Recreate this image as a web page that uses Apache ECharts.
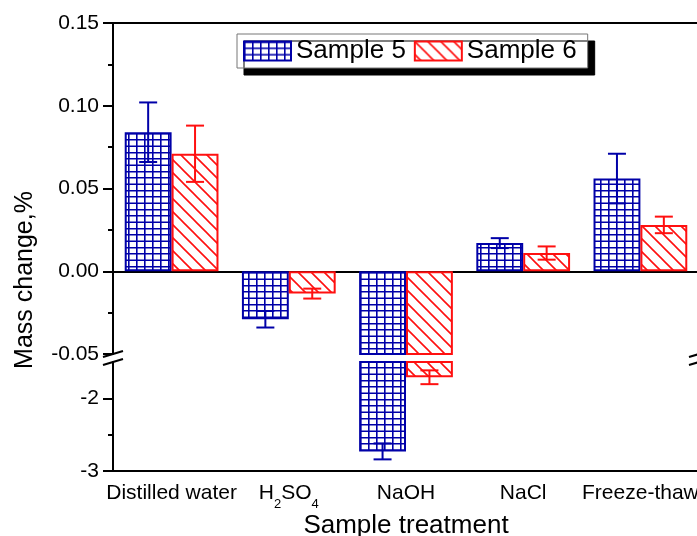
<!DOCTYPE html>
<html><head><meta charset="utf-8">
<script src="https://cdn.jsdelivr.net/npm/echarts@6/dist/echarts.min.js"></script>
<style>html,body{margin:0;padding:0;background:#fff}#c{width:697px;height:536px}</style>
</head><body><div id="c"></div>
<script>
// ---- data ----
const categories = ['Distilled water', 'H2SO4', 'NaOH', 'NaCl', 'Freeze-thaw'];
const sample5 = [0.084, -0.029, -2.73, 0.017, 0.056];
const sample5Err = [0.018, 0.005, 0.11, 0.003, 0.015];
const sample6 = [0.071, -0.0135, -1.71, 0.011, 0.028];
const sample6Err = [0.017, 0.003, 0.095, 0.004, 0.005];
const seriesNames = ['Sample 5', 'Sample 6'];
const upperRange = [-0.05, 0.15];
const lowerRange = [-3, -1.5];
const lowerTickLabels = [-3, -2];
const lowerMinorTicks = [-2.5];

// ---- layout ----
const FONT = 'Liberation Sans, Arial, sans-serif';
const GL = 113, GW = 586, UP_TOP = 23, UP_BOT = 354, LO_TOP = 362, LO_BOT = 471;
const BLUE = '#0000A8', RED = '#FF1010';

function gridPattern(color) {
  const c = document.createElement('canvas'); c.width = 8; c.height = 19;
  const g = c.getContext('2d'); g.fillStyle = '#fff'; g.fillRect(0, 0, 8, 19);
  g.strokeStyle = color; g.lineWidth = 1.6; g.beginPath();
  g.moveTo(0.8, 0); g.lineTo(0.8, 19);
  [0.8, 6.8, 13.2].forEach(y => { g.moveTo(0, y); g.lineTo(8, y); });
  g.stroke(); return c;
}
function hatchPattern(color) {
  const s = 13, c = document.createElement('canvas'); c.width = s; c.height = s;
  const g = c.getContext('2d'); g.fillStyle = '#fff'; g.fillRect(0, 0, s, s);
  g.strokeStyle = color; g.lineWidth = 1.6; g.beginPath();
  for (let k = -1; k <= 1; k++) { g.moveTo(k * s - 2, -2); g.lineTo(k * s + s + 2, s + 2); }
  g.stroke(); return c;
}
const fills = [{ image: gridPattern(BLUE), repeat: 'repeat' }, { image: hatchPattern(RED), repeat: 'repeat' }];
const colors = [BLUE, RED];
const values = [sample5, sample6];
const errs = [sample5Err, sample6Err];

function errSeries(k, xi, yi, range) {
  return {
    type: 'custom', name: seriesNames[k] + ' err', xAxisIndex: xi, yAxisIndex: yi, z: 10, silent: true,
    data: values[k].map((v, i) => [i, v, errs[k][i]]),
    encode: { x: 0, y: 1 },
    renderItem(params, api) {
      const i = api.value(0), v = api.value(1), e = api.value(2);
      if (v < range[0] || v > range[1]) return null;
      const band = api.size([1, 0])[0];
      const sign = k === 0 ? -1 : 1;
      const x = api.coord([i, v])[0] + sign * band * 0.2;
      const yt = api.coord([i, v + e])[1], yb = api.coord([i, v - e])[1];
      const hw = 9, st = { stroke: colors[k], lineWidth: 2 };
      return { type: 'group', children: [
        { type: 'line', shape: { x1: x, y1: yt, x2: x, y2: yb }, style: st },
        { type: 'line', shape: { x1: x - hw, y1: yt, x2: x + hw, y2: yt }, style: st },
        { type: 'line', shape: { x1: x - hw, y1: yb, x2: x + hw, y2: yb }, style: st }
      ] };
    }
  };
}

const series = [];
[0, 1].forEach(k => {
  series.push({
    type: 'bar', name: seriesNames[k], xAxisIndex: 0, yAxisIndex: 0, data: values[k],
    barGap: '0%', barCategoryGap: '20%', clip: true,
    itemStyle: { color: fills[k], borderColor: colors[k], borderWidth: 2 }
  });
});
[0, 1].forEach(k => {
  series.push({
    type: 'bar', name: seriesNames[k], xAxisIndex: 2, yAxisIndex: 1,
    data: values[k].map(v => (v < upperRange[0] ? v : '-')),
    barGap: '0%', barCategoryGap: '20%', clip: true,
    itemStyle: { color: fills[k], borderColor: colors[k], borderWidth: 2 }
  });
});
[0, 1].forEach(k => { series.push(errSeries(k, 0, 0, upperRange)); series.push(errSeries(k, 2, 1, lowerRange)); });

const axisLineStyle = { color: '#000', width: 2 };
const labelStyle = { color: '#000', fontSize: 21, fontFamily: FONT };

function breakMarks(x) {
  return [UP_BOT, LO_TOP].map(y => ({
    type: 'line', z: 100,
    shape: { x1: x - 10, y1: y + 3, x2: x + 10, y2: y - 3 },
    style: { stroke: '#000', lineWidth: 2 }
  }));
}

const option = {
  animation: false,
  backgroundColor: '#fff',
  grid: [
    { left: GL, top: UP_TOP, width: GW, height: UP_BOT - UP_TOP, containLabel: false, outerBoundsMode: 'none' },
    { left: GL, top: LO_TOP, width: GW, height: LO_BOT - LO_TOP, containLabel: false, outerBoundsMode: 'none' }
  ],
  legend: {
    data: seriesNames, left: 237, top: 34, icon: 'rect', itemWidth: 47, itemHeight: 19, itemGap: 8,
    padding: [4, 11, 4, 6], backgroundColor: '#fff', borderColor: '#777', borderWidth: 1,
    shadowColor: '#000', shadowBlur: 0, shadowOffsetX: 7, shadowOffsetY: 7,
    textStyle: { fontSize: 26, color: '#000', fontFamily: FONT }
  },
  xAxis: [
    { type: 'category', gridIndex: 0, data: categories, axisLine: { onZero: true, lineStyle: axisLineStyle },
      axisTick: { show: false }, axisLabel: { show: false } },
    { type: 'category', gridIndex: 0, data: categories, position: 'top', axisLine: { onZero: false, lineStyle: axisLineStyle },
      axisTick: { show: false }, axisLabel: { show: false } },
    { type: 'category', gridIndex: 1, data: categories, position: 'bottom', axisLine: { onZero: false, lineStyle: axisLineStyle },
      axisTick: { show: false },
      axisLabel: Object.assign({}, labelStyle, {
        interval: 0, hideOverlap: false, margin: 12, lineHeight: 21,
        formatter: v => v === 'H2SO4' ? '{n|H}{s|2}{n|SO}{s|4}' : v,
        rich: {
          n: { fontSize: 21, fontFamily: FONT, color: '#000', lineHeight: 21, verticalAlign: 'top' },
          s: { fontSize: 13, fontFamily: FONT, color: '#000', lineHeight: 13, verticalAlign: 'top', padding: [15, 0, 0, 0] }
        }
      }),
      name: 'Sample treatment', nameLocation: 'middle', nameGap: 42,
      nameTextStyle: { fontSize: 26, color: '#000', fontFamily: FONT } }
  ],
  yAxis: [
    { type: 'value', gridIndex: 0, position: 'left', min: upperRange[0], max: upperRange[1], interval: 0.05,
      axisLine: { show: true, lineStyle: axisLineStyle },
      axisTick: { show: true, length: 10, lineStyle: { width: 2, color: '#000' } },
      minorTick: { show: true, splitNumber: 2, length: 5, lineStyle: { width: 2, color: '#000' } },
      splitLine: { show: false },
      axisLabel: Object.assign({}, labelStyle, { margin: 14, formatter: v => v.toFixed(2) }) },
    { type: 'value', gridIndex: 1, position: 'left', min: lowerRange[0], max: lowerRange[1], interval: 0.5,
      axisLine: { show: true, lineStyle: axisLineStyle },
      axisTick: { show: true, length: 10, customValues: lowerTickLabels, lineStyle: { width: 2, color: '#000' } },
      splitLine: { show: false },
      axisLabel: Object.assign({}, labelStyle, { margin: 14, customValues: lowerTickLabels, formatter: v => String(v) }) },
    { type: 'value', gridIndex: 1, position: 'left', offset: 0, min: lowerRange[0], max: lowerRange[1], interval: 0.5,
      axisLine: { show: false },
      axisTick: { show: true, length: 5, customValues: lowerMinorTicks, lineStyle: { width: 2, color: '#000' } },
      splitLine: { show: false }, axisLabel: { show: false } }
  ],
  graphic: [
    { type: 'text', x: 25, y: 280, rotation: Math.PI / 2, z: 100,
      style: { text: 'Mass change,%', fontSize: 25, fontFamily: FONT, fill: '#000', align: 'center', verticalAlign: 'middle' } }
  ].concat(breakMarks(GL), breakMarks(GL + GW)),
  series: series
};

const chart = echarts.init(document.getElementById('c'), null, { renderer: 'canvas' });
chart.setOption(option);
</script>
</body></html>
